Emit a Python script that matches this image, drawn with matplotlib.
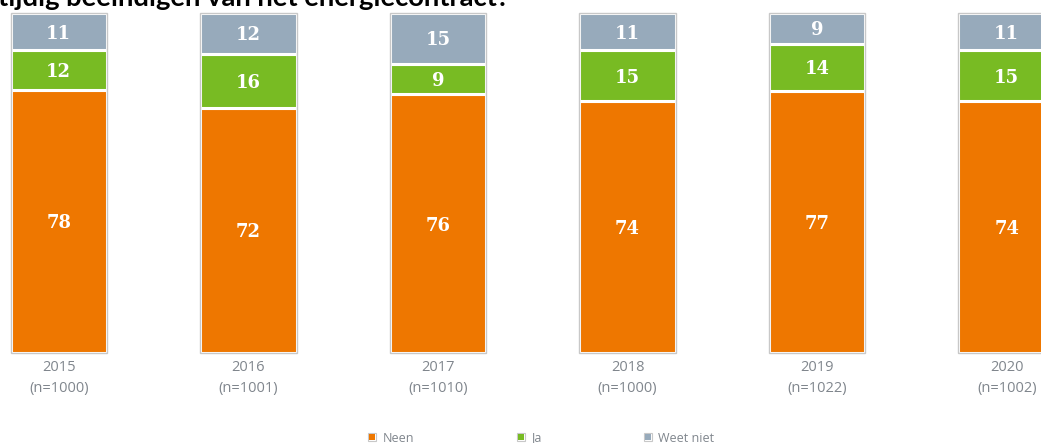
import matplotlib
matplotlib.use("Agg")
import matplotlib.pyplot as plt
from matplotlib.lines import Line2D
import numpy as np

# Survey results per year (percentages)
years = ["2015", "2016", "2017", "2018", "2019", "2020"]
sample_sizes = ["n=1000", "n=1001", "n=1010", "n=1000", "n=1022", "n=1002"]
neen = [78, 72, 76, 74, 77, 74]
ja = [12, 16, 9, 15, 14, 15]
weet_niet = [11, 12, 15, 11, 9, 11]

series_names = ["Neen", "Ja", "Weet niet"]
series_colors = ["#EE7700", "#78BB23", "#97AABB"]
frame_color = "#C8C8C8"
tick_color = "#80868D"
title_text = "tijdig beëindigen van het energiecontract?"

W, H, DPI = 1041, 443, 100
fig = plt.figure(figsize=(W / DPI, H / DPI), dpi=DPI)

# axes occupy the vertical span of the stacked columns
ax_bottom_px, ax_top_px = 352.5, 13.0
ax = fig.add_axes([0, (H - ax_bottom_px) / H, 1, (ax_bottom_px - ax_top_px) / H])

x = np.arange(len(years))
step_px = 189.6
first_center_px = 58.75
ax.set_xlim(-first_center_px / step_px, (W - first_center_px) / step_px)
ax.set_ylim(0, 100)
bar_w = 96.5 / step_px

data = np.array([neen, ja, weet_niet], dtype=float)
shares = data / data.sum(axis=0) * 100  # stacked to 100 %

# outer frame around each column
ax.bar(x, 100, width=bar_w, bottom=0, facecolor="white",
       edgecolor=frame_color, linewidth=1.0, zorder=1, clip_on=False)

bottom = np.zeros(len(years))
for i, (name, color) in enumerate(zip(series_names, series_colors)):
    ax.bar(x, shares[i], width=bar_w, bottom=bottom, color=color,
           edgecolor="white", linewidth=2.2, zorder=2, label=name,
           clip_on=False)
    for xi, b, h, v in zip(x, bottom, shares[i], data[i]):
        ax.text(xi, b + h / 2 - 0.6, f"{int(v)}", ha="center", va="center",
                color="white", fontsize=13, fontweight="bold",
                family="DejaVu Serif", zorder=3)
    bottom += shares[i]

# redraw frame outline on top so it stays crisp
ax.bar(x, 100, width=bar_w, bottom=0, facecolor="none",
       edgecolor=frame_color, linewidth=1.0, zorder=4, clip_on=False)

ax.set_xticks(x)
ax.set_xticklabels([f"{y}\n({n})" for y, n in zip(years, sample_sizes)],
                   color=tick_color, fontsize=10.5, family="Open Sans",
                   linespacing=1.5)
ax.tick_params(axis="x", length=0, pad=5.5)
ax.set_yticks([])
for s in ax.spines.values():
    s.set_visible(False)

# legend with framed square markers
handles = []
for c in series_colors:
    outer = Line2D([], [], linestyle="none", marker="s", markersize=6.3,
                   markerfacecolor="white", markeredgecolor=frame_color,
                   markeredgewidth=0.8)
    inner = Line2D([], [], linestyle="none", marker="s", markersize=3.8,
                   markerfacecolor=c, markeredgecolor=c, markeredgewidth=0)
    handles.append((outer, inner))
fs_leg = 9
fig.legend(handles, series_names, loc="center left", ncol=3,
           bbox_to_anchor=(366 / W, 1 - 438 / H), frameon=False,
           prop={"family": "Open Sans", "size": fs_leg},
           labelcolor=tick_color, borderpad=0, borderaxespad=0,
           handlelength=1.0, handletextpad=0.35, columnspacing=8.0)

# title line, partly above the canvas
title = fig.text(-2 / W, 1 - 6 / H, title_text, ha="left", va="baseline",
                 fontsize=20, fontweight="bold", family="Lato", color="black")
fig.canvas.draw()
tw = title.get_window_extent().width
title.set_fontsize(20 * 512 / tw)

fig.savefig("out.png", dpi=DPI)
